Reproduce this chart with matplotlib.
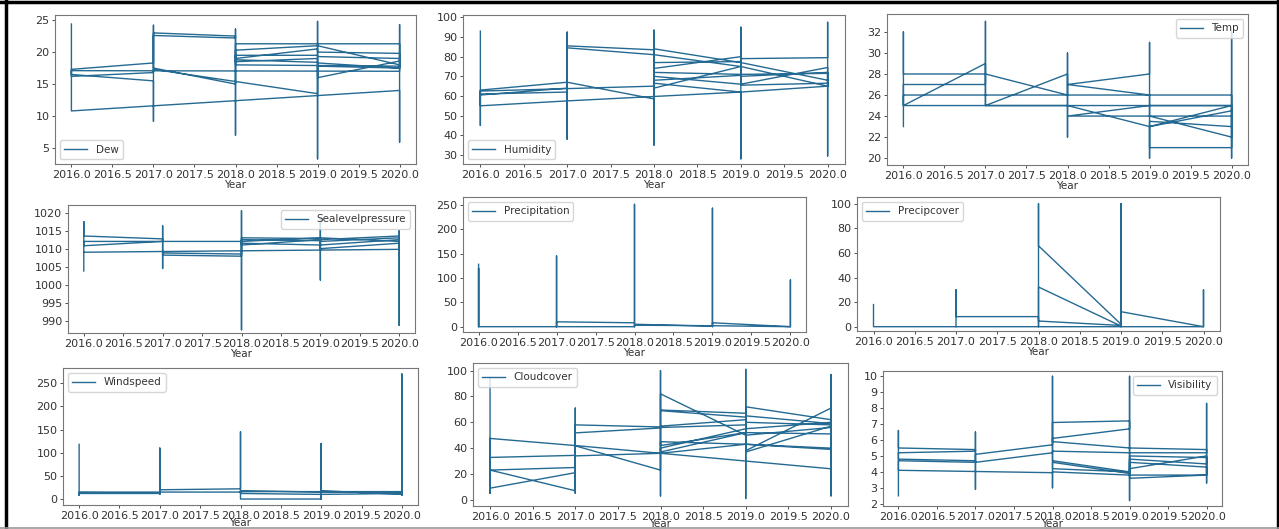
import matplotlib
matplotlib.use('Agg')
import matplotlib.pyplot as plt
from matplotlib.lines import Line2D

# each run: (year, values visited in that year, in order) -> the line jumps between years
dew_runs = [
    (2016, [24.4, 10.8]), (2020, [14.0, 5.9, 24.3, 17.0]), (2016, [17.1, 16.5]),
    (2017, [15.5, 9.2, 24.2, 18.3]), (2016, [17.3, 16.2]), (2017, [16.8, 23.0]),
    (2018, [22.5, 7.0, 23.6, 22.2]), (2017, [22.6, 17.5]), (2018, [15.0, 21.3]),
    (2020, [21.3, 18.0]), (2019, [21.0, 3.3, 24.8, 21.0]), (2018, [20.3, 19.0]),
    (2019, [20.5, 20.0]), (2020, [19.8, 18.6]), (2019, [16.0, 19.0]),
    (2018, [18.5, 18.8]), (2019, [18.4, 18.3]), (2020, [17.5, 19.0]),
    (2019, [19.3, 19.5]), (2018, [19.5, 18.0]), (2020, [17.8, 17.5]),
    (2019, [17.8, 13.5]), (2017, [17.3]),
]
humidity_runs = [
    (2016, [93.0, 45.0, 63.0]), (2017, [67.0, 38.0, 92.5, 62.0]), (2016, [61.0, 60.5]),
    (2017, [64.0, 57.5]), (2016, [55.0, 62.5]), (2018, [65.0, 35.0, 93.5, 83.5]),
    (2017, [85.5, 84.5]), (2018, [81.0, 58.5]), (2017, [67.0, 57.5]),
    (2019, [62.0, 28.0, 95.0, 77.0]), (2018, [84.0, 81.0]), (2019, [75.0, 79.0]),
    (2020, [79.5, 97.5, 29.5, 68.0]), (2019, [77.0, 77.5]), (2018, [77.0, 74.0]),
    (2019, [80.0, 75.0]), (2020, [65.0, 71.5]), (2019, [71.0]), (2018, [72.0, 68.0]),
    (2019, [70.5, 66.0]), (2020, [74.5, 65.0]), (2019, [62.0]), (2018, [66.5, 64.0]),
    (2019, [75.0, 70.0]), (2020, [72.0, 66.5]), (2019, [65.5, 66.0]), (2018, [70.0]),
]
temp_runs = [
    (2016, [23, 32, 28]), (2017, [28, 27]), (2016, [27, 25]), (2017, [29, 25, 33, 28]),
    (2018, [26, 30, 22, 28]), (2017, [25]), (2018, [25]), (2019, [23, 20, 31, 28]),
    (2018, [27]), (2019, [26, 25]), (2018, [24]), (2019, [24]), (2020, [22, 32, 20, 25]),
    (2019, [23, 21]), (2020, [21, 25]), (2019, [25, 24]), (2020, [24, 23]),
    (2019, [23.5, 23]), (2020, [24.5, 26]), (2016, [26, 25]), (2020, [25]),
]
pressure_runs = [
    (2016, [1003.8, 1017.5, 1013.5]), (2017, [1012.7, 1004.5, 1016.3, 1012.0]),
    (2016, [1010.8, 1012.0]), (2018, [1012.0, 987.5, 1020.5, 1007.9]),
    (2017, [1008.2, 1008.8]), (2018, [1008.5, 1013.0]),
    (2019, [1012.8, 1001.3, 1018.0, 1012.2]), (2018, [1012.5, 1011.5]),
    (2019, [1011.0, 1012.5]), (2018, [1011.0, 1012.0]), (2019, [1013.0, 1012.5]),
    (2020, [1013.5, 988.7, 1015.0, 1013.0]), (2019, [1012.0, 1011.0]),
    (2020, [1012.5, 1012.0]), (2019, [1013.0, 1010.0]), (2020, [1011.5, 1009.8]),
    (2016, [1009.0]),
]
precip_runs = [
    (2016, [128, 0, 120, 0]), (2017, [0, 145, 0, 10]), (2018, [8, 251, 0, 5]),
    (2019, [1, 243, 0, 8]), (2020, [0, 96, 0]), (2019, [2]), (2018, [3, 0]), (2017, [0]),
]
precipcover_runs = [
    (2016, [18, 0]), (2017, [0, 30, 8.2]), (2018, [8.2, 0, 100, 65.8]),
    (2019, [2.0, 0, 100, 0.5]), (2018, [32.3, 4.6]), (2019, [1.0, 12.2]),
    (2020, [0, 30, 0]), (2019, [0]), (2018, [0]), (2017, [0]),
]
wind_runs = [
    (2016, [118, 8, 14]), (2017, [13, 110, 10, 12]), (2016, [12, 15]), (2017, [15, 20]),
    (2018, [22, 145, 0]), (2019, [0, 120, 0, 15]), (2018, [18, 12]), (2019, [10, 15]),
    (2020, [14, 270, 8, 12]), (2019, [10, 18]), (2020, [10, 16]), (2018, [16, 15]),
    (2017, [15]),
]
cloud_runs = [
    (2016, [94, 5, 47.5]), (2017, [42, 5, 71, 34.4]), (2016, [32.8, 23]), (2017, [25, 7]),
    (2016, [23, 9]), (2017, [21, 58]), (2018, [56.4, 3, 100, 55.6]), (2017, [51.8, 41.8]),
    (2018, [23, 36]), (2017, [34, 42]), (2020, [24, 97, 3, 62]), (2019, [72, 1, 101, 50]),
    (2018, [82, 69.5]), (2019, [67, 38]), (2020, [71, 57]), (2019, [37, 64]),
    (2018, [69, 57]), (2019, [62, 60]), (2020, [58, 60]), (2019, [55, 58]),
    (2018, [56, 42]), (2019, [52, 50]), (2020, [56, 39]), (2019, [43, 55]),
    (2018, [40, 37]), (2019, [52]), (2020, [51, 59]), (2019, [65, 43]),
    (2018, [45, 36]), (2019, [43]), (2020, [40]),
]
vis_runs = [
    (2016, [2.5, 6.6, 5.5]), (2017, [5.4, 2.9, 6.5, 5.3]), (2016, [5.2, 4.8]),
    (2017, [4.7, 4.6]), (2016, [4.7, 4.1]), (2018, [3.95, 3.0, 10.0, 5.2]),
    (2017, [4.6, 5.1]), (2018, [5.7, 7.1]), (2019, [7.2, 2.2, 10.0, 6.7]),
    (2018, [6.1, 5.9]), (2019, [5.5]), (2020, [5.4, 3.3, 8.3, 5.2]), (2019, [5.2]),
    (2018, [5.3, 4.7]), (2019, [4.0, 5.0]), (2020, [4.9, 4.5]), (2019, [4.8, 3.9]),
    (2018, [4.6, 4.2]), (2019, [4.0, 3.6]), (2020, [3.8, 5.0]), (2019, [4.2, 3.8]),
    (2020, [3.8, 4.3]), (2019, [4.6, 3.8]), (2018, [4.0]),
]

names = ['Dew', 'Humidity', 'Temp', 'Sealevelpressure', 'Precipitation',
         'Precipcover', 'Windspeed', 'Cloudcover', 'Visibility']
all_runs = [dew_runs, humidity_runs, temp_runs, pressure_runs, precip_runs,
            precipcover_runs, wind_runs, cloud_runs, vis_runs]
x_ticks = [2016.0, 2016.5, 2017.0, 2017.5, 2018.0, 2018.5, 2019.0, 2019.5, 2020.0]
y_ticks = [
    [5, 10, 15, 20, 25],
    [30, 40, 50, 60, 70, 80, 90, 100],
    [20, 22, 24, 26, 28, 30, 32],
    [990, 995, 1000, 1005, 1010, 1015, 1020],
    [0, 50, 100, 150, 200, 250],
    [0, 20, 40, 60, 80, 100],
    [0, 50, 100, 150, 200, 250],
    [0, 20, 40, 60, 80, 100],
    [2, 3, 4, 5, 6, 7, 8, 9, 10],
]

W, H = 1279, 529
# axes boxes in pixels: left, right, top, bottom
boxes = [(55, 416, 15, 164), (463, 845, 15, 164), (887, 1248, 14, 165),
         (68, 415, 205, 333), (463, 806, 197, 332), (857, 1220, 197, 331),
         (63, 418, 368, 505), (473, 848, 363, 506), (883, 1222, 371, 506)]
ylims = [(2.5, 25.8), (25.4, 101.2), (19.35, 33.7), (986.6, 1022.1), (-10.9, 266),
         (-3.5, 105.5), (-12.9, 282.8), (-4.8, 105.9), (1.86, 10.33)]
legend_loc = ['lower left', 'lower left', 'upper right', 'upper right', 'upper left',
              'upper left', 'upper left', 'upper left', 'upper right']

line_color = '#256a93'
text_color = '#333333'

fig = plt.figure(figsize=(W / 100, H / 100), dpi=100)

for i, (name, runs, (l, r, t, b), yl, yt, loc) in enumerate(
        zip(names, all_runs, boxes, ylims, y_ticks, legend_loc)):
    ax = fig.add_axes([l / W, 1 - b / H, (r - l) / W, (b - t) / H])
    xs, ys = [], []
    for year, vals in runs:
        for v in vals:
            xs.append(float(year))
            ys.append(v)
    ax.plot(xs, ys, color=line_color, linewidth=1.0, label=name)
    ax.set_xlim(2015.8, 2020.2)
    ax.set_ylim(*yl)
    ax.set_xticks(x_ticks)
    ax.set_yticks(yt)
    ax.ticklabel_format(useOffset=False)
    ax.tick_params(labelsize=8, colors=text_color, length=2.5, width=0.6, pad=1.5)
    # bottom row sits close to the image edge
    ax.set_xlabel('Year', fontsize=7.5, color=text_color, labelpad=-1.5 if i >= 6 else 0)
    for s in ax.spines.values():
        s.set_color('#777777')
        s.set_linewidth(0.8)
    ax.legend(loc=loc, fontsize=7.5, frameon=True, handlelength=2.2,
              borderpad=0.4, labelcolor=text_color)

# screenshot border
fig.add_artist(Line2D([6 / W, 6 / W], [0, 1], color='black', linewidth=2.5))
fig.add_artist(Line2D([0, 1], [1 - 2 / H, 1 - 2 / H], color='black', linewidth=2.5))
fig.add_artist(Line2D([1277.5 / W, 1277.5 / W], [0, 1], color='black', linewidth=2.5))
fig.add_artist(Line2D([0, 1], [1.5 / H, 1.5 / H], color='#999999', linewidth=1.2))

fig.savefig('out.png', dpi=100)
